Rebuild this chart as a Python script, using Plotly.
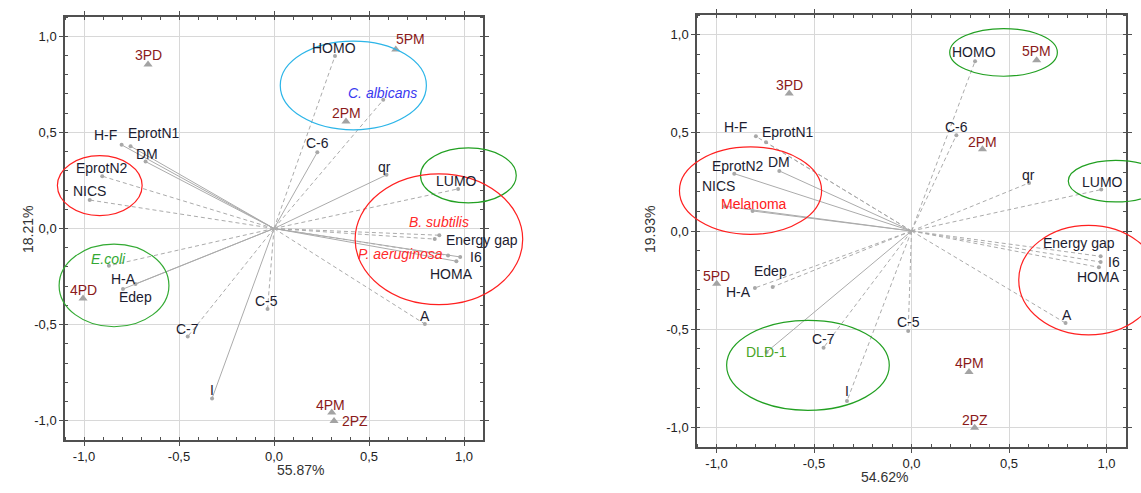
import plotly.graph_objects as go

# ---------------- DATA ----------------
# Left biplot (PC1 55.87 %, PC2 18.21 %)
L_VAR_NAMES = ["HOMO", "C-6", "qr", "LUMO", "Energy gap", "I6", "HOMA", "A", "C-5", "I",
               "C-7", "Edep", "H-A", "NICS", "EprotN2", "DM", "EprotN1", "H-F"]
L_VAR_X = [0.321, 0.228, 0.592, 0.969, 0.846, 0.980, 0.960, 0.794, -0.034, -0.326,
           -0.454, -0.729, -0.795, -0.970, -0.904, -0.676, -0.755, -0.802]
L_VAR_Y = [0.897, 0.397, 0.279, 0.206, -0.055, -0.148, -0.170, -0.497, -0.419, -0.884,
           -0.562, -0.289, -0.315, 0.148, 0.272, 0.348, 0.428, 0.435]
L_CASE_NAMES = ["3PD", "5PM", "2PM", "4PD", "4PM", "2PZ"]
L_CASE_X = [-0.663, 0.641, 0.379, -1.005, 0.304, 0.316]
L_CASE_Y = [0.853, 0.931, 0.556, -0.364, -0.957, -1.001]
L_GROUP_NAMES = ["C. albicans", "B. subtilis", "P. aeruginosa", "E.coli"]
L_GROUP_X = [0.575, 0.870, 0.916, -0.869]
L_GROUP_Y = [0.669, -0.035, -0.140, -0.194]
L_X_TITLE = "55.87%"
L_Y_TITLE = "18.21%"

# Right biplot (PC1 54.62 %, PC2 19.93 %)
R_VAR_NAMES = ["HOMO", "C-6", "qr", "LUMO", "Energy gap", "I6", "HOMA", "A", "C-5", "I",
               "C-7", "Edep", "H-A", "NICS", "EprotN2", "DM", "EprotN1", "H-F"]
R_VAR_X = [0.326, 0.230, 0.603, 0.973, 0.970, 0.970, 0.961, 0.790, -0.017, -0.331,
           -0.451, -0.712, -0.803, -0.957, -0.909, -0.678, -0.746, -0.798]
R_VAR_Y = [0.865, 0.488, 0.245, 0.211, -0.129, -0.158, -0.185, -0.469, -0.509, -0.866,
           -0.594, -0.285, -0.290, 0.126, 0.292, 0.306, 0.452, 0.482]
R_CASE_NAMES = ["3PD", "5PM", "2PM", "5PD", "4PM", "2PZ"]
R_CASE_X = [-0.627, 0.642, 0.364, -0.999, 0.295, 0.324]
R_CASE_Y = [0.700, 0.870, 0.416, -0.268, -0.718, -1.002]
R_GROUP_NAMES = ["Melanoma", "DLD-1"]
R_GROUP_X = [-0.815, -0.743]
R_GROUP_Y = [0.102, -0.616]
R_X_TITLE = "54.62%"
R_Y_TITLE = "19.93%"

TICK_VALS = [-1.0, -0.5, 0.0, 0.5, 1.0]
TICK_TEXT = ["-1,0", "-0,5", "0,0", "0,5", "1,0"]

# ---------------- STYLE ----------------
FONT = "Liberation Sans, Arial, sans-serif"
VAR_COLOR = "#1c1c30"
CASE_COLOR = "#8b1a1a"
LINE_COLOR = "#ababab"
AX_RANGE = [-1.1, 1.1]

L_DOM_X = [65 / 1141, 483 / 1141]
L_DOM_Y = [(493 - 440) / 493, (493 - 17) / 493]
R_DOM_X = [697 / 1141, 1126 / 1141]
R_DOM_Y = [(493 - 447) / 493, (493 - 15) / 493]

L_SOLID = {"C-6", "qr", "H-F", "EprotN1", "DM", "H-A", "Edep", "I", "I6", "HOMA"}
R_SOLID = {"EprotN2", "DM", "NICS", "Melanoma", "DLD-1"}

# label offsets (px) of label centre relative to its point; default = just above
DEFAULT_OFF = (0, 9)
L_OFF = {"H-F": (-16, 10), "EprotN1": (23, 13), "DM": (1, 8), "EprotN2": (0, 8),
         "E.coli": (0, 7), "H-A": (1, 10), "Edep": (0, -13), "4PD": (0, 8),
         "C-7": (0, 8), "I": (0, 8), "C-5": (-1, 8), "4PM": (-1, 8), "2PZ": (21, 0),
         "A": (0, 8), "Energy gap": (47, -1), "I6": (16, 0), "HOMA": (-5, -13),
         "P. aeruginosa": (-48, 1), "B. subtilis": (0, 13), "LUMO": (-2, 8),
         "qr": (-2, 8), "HOMO": (-1, 8), "5PM": (15, 10), "C. albicans": (-1, 7)}
R_OFF = {"H-F": (-20, 9), "EprotN1": (22, 10), "EprotN2": (4, 8), "NICS": (-6, 20),
         "Melanoma": (1, 7), "5PD": (0, 8), "H-A": (-16, -4), "Edep": (-2, 16),
         "DLD-1": (0, 0), "I": (0, 10), "2PZ": (0, 8), "A": (1, 8),
         "Energy gap": (-22, 13), "I6": (13, 0), "HOMA": (0, -10), "LUMO": (1, 8),
         "qr": (-1, 8), "2PM": (0, 7), "C-6": (0, 8), "HOMO": (-1, 9)}

L_GROUP_COL = {"C. albicans": "#3a3af0", "B. subtilis": "#ff2a2a",
               "P. aeruginosa": "#ff2a2a", "E.coli": "#33a833"}
R_GROUP_COL = {"Melanoma": "#ff2020", "DLD-1": "#4aa628"}
ITALIC = {"C. albicans", "B. subtilis", "P. aeruginosa", "E.coli"}

# ellipses (data coords: x0, x1, y0, y1, colour)
L_ELL = [(0.033, 0.802, 0.513, 0.975, "#2cb5e8"),
         (0.771, 1.275, 0.133, 0.419, "#22a022"),
         (0.427, 1.309, -0.396, 0.284, "#ff2020"),
         (-1.140, -0.694, 0.067, 0.379, "#ff2020"),
         (-1.131, -0.553, -0.511, -0.081, "#33aa33")]
R_ELL = [(0.196, 0.748, 0.788, 1.031, "#22a022"),
         (0.804, 1.290, 0.148, 0.360, "#22a022"),
         (0.550, 1.266, -0.529, 0.029, "#ff2020"),
         (-1.190, -0.461, -0.017, 0.428, "#ff2020"),
         (-0.948, -0.114, -0.913, -0.455, "#22a022")]

fig = go.Figure()
annotations = []


def add_labels(xref, yref, names, xs, ys, color_of, offs):
    for n, x, y in zip(names, xs, ys):
        dx, dy = offs.get(n, DEFAULT_OFF)
        txt = f"<i>{n}</i>" if n in ITALIC else n
        annotations.append(dict(text=txt, x=x, y=y, xref=xref, yref=yref, showarrow=False,
                                xanchor="center", yanchor="middle", xshift=dx, yshift=dy,
                                font=dict(family=FONT, size=14, color=color_of(n))))


def add_panel(idx, var_n, var_x, var_y, case_n, case_x, case_y,
              grp_n, grp_x, grp_y, solid, offs, grp_col):
    xref = "x" if idx == 1 else "x2"
    yref = "y" if idx == 1 else "y2"
    arrow_n = list(var_n) + list(grp_n)
    arrow_x = list(var_x) + list(grp_x)
    arrow_y = list(var_y) + list(grp_y)
    for sel in (True, False):
        xs, ys = [], []
        for n, x, y in zip(arrow_n, arrow_x, arrow_y):
            if (n in solid) == sel:
                xs += [0, x, None]
                ys += [0, y, None]
        fig.add_trace(go.Scatter(x=xs, y=ys, mode="lines", xaxis=xref, yaxis=yref,
                                 line=dict(color=LINE_COLOR, width=1,
                                           dash="solid" if sel else "4px,3px"),
                                 hoverinfo="skip", showlegend=False))
    fig.add_trace(go.Scatter(x=arrow_x, y=arrow_y, mode="markers", xaxis=xref, yaxis=yref,
                             marker=dict(size=4, color="#a8a8a8"), showlegend=False))
    fig.add_trace(go.Scatter(x=case_x, y=case_y, mode="markers", xaxis=xref, yaxis=yref,
                             marker=dict(size=8, symbol="triangle-up", color="#a3a3a3"),
                             showlegend=False))
    add_labels(xref, yref, var_n, var_x, var_y, lambda n: VAR_COLOR, offs)
    add_labels(xref, yref, case_n, case_x, case_y, lambda n: CASE_COLOR, offs)
    add_labels(xref, yref, grp_n, grp_x, grp_y, lambda n: grp_col[n], offs)


add_panel(1, L_VAR_NAMES, L_VAR_X, L_VAR_Y, L_CASE_NAMES, L_CASE_X, L_CASE_Y,
          L_GROUP_NAMES, L_GROUP_X, L_GROUP_Y, L_SOLID, L_OFF, L_GROUP_COL)
add_panel(2, R_VAR_NAMES, R_VAR_X, R_VAR_Y, R_CASE_NAMES, R_CASE_X, R_CASE_Y,
          R_GROUP_NAMES, R_GROUP_X, R_GROUP_Y, R_SOLID, R_OFF, R_GROUP_COL)


def to_paper(v, dom):
    return dom[0] + (v - AX_RANGE[0]) / (AX_RANGE[1] - AX_RANGE[0]) * (dom[1] - dom[0])


shapes = []
for ells, dx, dy in ((L_ELL, L_DOM_X, L_DOM_Y), (R_ELL, R_DOM_X, R_DOM_Y)):
    for x0, x1, y0, y1, col in ells:
        shapes.append(dict(type="circle", xref="paper", yref="paper",
                           x0=to_paper(x0, dx), x1=to_paper(x1, dx),
                           y0=to_paper(y0, dy), y1=to_paper(y1, dy),
                           line=dict(color=col, width=1.2), layer="above"))

axis_common = dict(range=AX_RANGE, tickvals=TICK_VALS, ticktext=TICK_TEXT,
                   showgrid=True, gridcolor="#d8d8d8", gridwidth=1, zeroline=False,
                   showline=True, linecolor="#505050", linewidth=1.5, mirror="ticks",
                   ticks="outside", ticklen=4, tickcolor="#505050",
                   minor=dict(dtick=0.1, tick0=0, ticks="inside", ticklen=3,
                              tickcolor="#505050", showgrid=False),
                   tickfont=dict(family=FONT, size=13, color="#222"), fixedrange=True)

title_font = dict(family=FONT, size=14, color="#333")
annotations += [
    dict(text=L_X_TITLE, xref="paper", yref="paper", x=275 / 1141, y=(493 - 480) / 493,
         showarrow=False, font=title_font),
    dict(text=L_Y_TITLE, xref="paper", yref="paper", x=18 / 1141, y=(493 - 230) / 493,
         textangle=-90, showarrow=False, font=title_font),
    dict(text=R_X_TITLE, xref="paper", yref="paper", x=910 / 1141, y=(493 - 487) / 493,
         showarrow=False, font=title_font),
    dict(text=R_Y_TITLE, xref="paper", yref="paper", x=650 / 1141, y=(493 - 230) / 493,
         textangle=-90, showarrow=False, font=title_font),
]

fig.update_layout(
    width=1141, height=493, margin=dict(l=0, r=0, t=0, b=0),
    paper_bgcolor="white", plot_bgcolor="white", showlegend=False,
    xaxis=dict(domain=L_DOM_X, anchor="y", **axis_common),
    yaxis=dict(domain=L_DOM_Y, anchor="x", **axis_common),
    xaxis2=dict(domain=R_DOM_X, anchor="y2", **axis_common),
    yaxis2=dict(domain=R_DOM_Y, anchor="x2", **axis_common),
    shapes=shapes,
    annotations=annotations,
)

fig.write_html("out.html")
